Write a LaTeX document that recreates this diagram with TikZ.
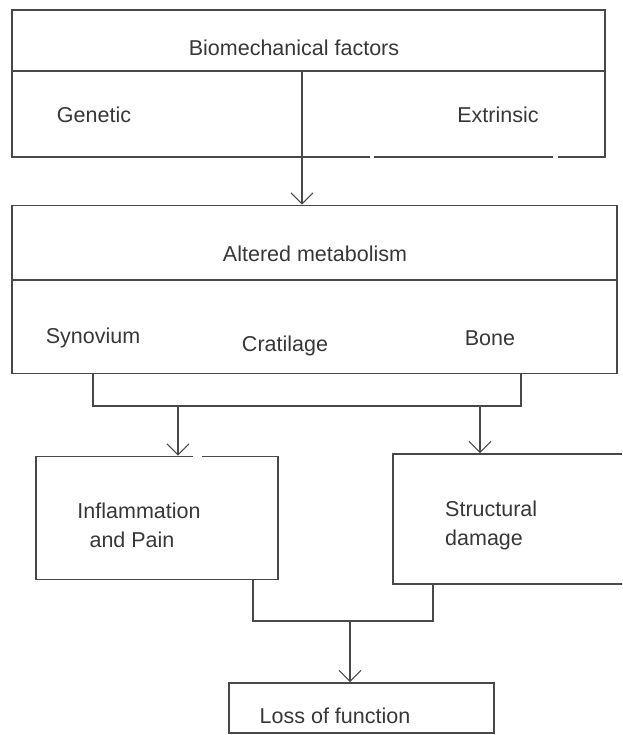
\documentclass[tikz,border=0pt]{standalone}
\usepackage{fontspec}
\setmainfont{Liberation Sans}
\usetikzlibrary{arrows.meta,calc}
\definecolor{linec}{RGB}{72,72,72}
\definecolor{textc}{RGB}{55,55,55}
\begin{document}
\begin{tikzpicture}[x=1pt,y=-1pt,
  box/.style={draw=linec,line width=1.8pt,rectangle,inner sep=0pt},
  lbl/.style={text=textc,font=\fontsize{21.5}{29}\selectfont,inner sep=0pt,anchor=base},
  lbll/.style={text=textc,font=\fontsize{21.5}{29}\selectfont,inner sep=0pt,anchor=base west},
  conn/.style={draw=linec,line width=1.8pt},
  arr/.style={draw=linec,line width=1.8pt,-{Straight Barb[length=11pt,width=22pt,line width=1.1pt]}}]
\useasboundingbox (0,0) rectangle (622,735);
\begin{scope}
\clip (0,0) rectangle (622,735);
% boxes
\node[box,minimum width=593pt,minimum height=147pt] (b1) at (308.5,83.5) {};
\node[box,minimum width=605pt,minimum height=168pt] (b2) at (314.5,289.5) {};
\node[box,minimum width=242pt,minimum height=123pt] (b3) at (157,518) {};
\node[box,minimum width=250pt,minimum height=130pt] (b4) at (518,519) {};
\node[box,minimum width=265pt,minimum height=50pt] (b5) at (361.5,708) {};
\end{scope}
% dividers
\coordinate (d1l) at (12,71);
\coordinate (d1r) at (605,71);
\draw[conn] (d1l) -- (d1r);
\coordinate (d2l) at (12,280);
\coordinate (d2r) at (617,280);
\draw[conn] (d2l) -- (d2r);
% small gaps
\draw[white,line width=3pt] (370,157) -- (374,157);
\draw[white,line width=3pt] (553,157) -- (558,157);
\draw[white,line width=3pt] (193,457) -- (202,457);
% texts
\node[lbl] (t1) at (294,56) {Biomechanical factors};
\node[lbl] (t2) at (94,123) {Genetic};
\node[lbl] (t3) at (498,123) {Extrinsic};
\node[lbl] (t4) at (315,261) {Altered metabolism};
\node[lbl] (t5) at (93,343) {Synovium};
\node[lbl] (t6) at (285,351) {Cratilage};
\node[lbl] (t7) at (490,345) {Bone};
\node[lbl] (t8) at (139,518) {Inflammation};
\node[lbl] (t9) at (132,547) {and Pain};
\node[lbll] (t10) at (445,516) {Structural};
\node[lbll] (t11) at (445,545) {damage};
\node[lbl] (t12) at (335,723) {Loss of function};
% connectors
\coordinate (a1) at (302,71);
\draw[arr] (a1) -- (a1 |- b2.north);
\coordinate (bl) at (93,406);
\coordinate (br) at (521,406);
\draw[conn] (bl |- b2.south) -- (bl) -- (br) -- (br |- b2.south);
\coordinate (s3) at (178,406);
\coordinate (s4) at (480,406);
\draw[arr] (s3) -- (s3 |- b3.north);
\draw[arr] (s4) -- (s4 |- b4.north);
\coordinate (cl) at (253,621);
\coordinate (cr) at (433,621);
\draw[conn] (cl |- b3.south) -- (cl) -- (cr) -- (cr |- b4.south);
\coordinate (s5) at (350,621);
\draw[arr] (s5) -- (s5 |- b5.north);
\end{tikzpicture}
\end{document}
